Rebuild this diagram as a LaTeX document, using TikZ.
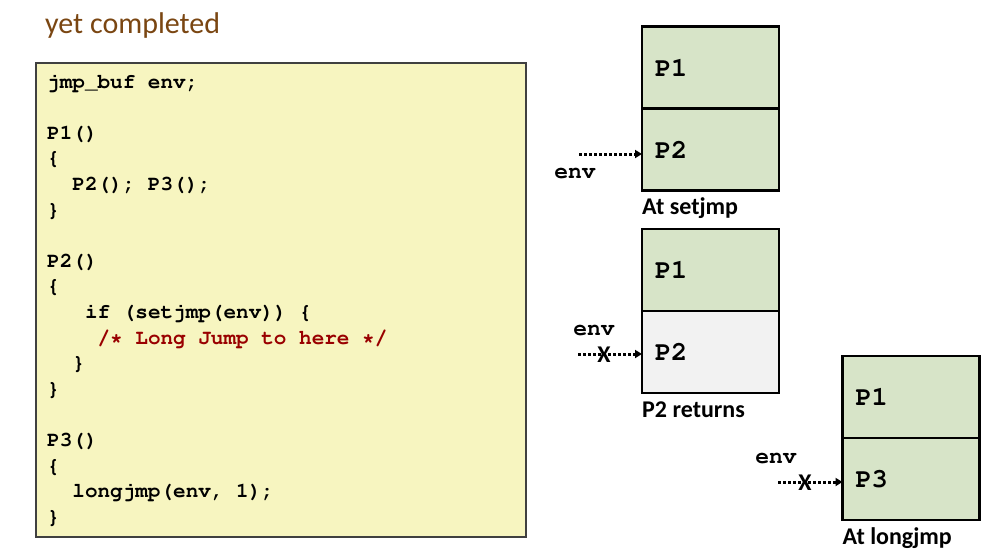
\documentclass[tikz,border=0pt]{standalone}
\usepackage[T1]{fontenc}
\usepackage{fontspec}
\setmainfont{Carlito}
\usetikzlibrary{arrows.meta,positioning}

\newcommand\courbf{\fontencoding{T1}\fontfamily{pcr}\fontseries{b}\selectfont}

\definecolor{codebg}{RGB}{247,245,192}
\definecolor{framegreen}{RGB}{215,228,200}
\definecolor{framegray}{RGB}{242,242,242}
\definecolor{titlebrown}{RGB}{122,70,18}
\definecolor{commentred}{RGB}{153,0,0}

\tikzset{
  stackframe/.style={draw, line width=2.5pt, outer sep=0pt, fill=framegreen,
    minimum width=137pt, minimum height=82pt, text width=111pt, inner xsep=13pt,
    align=left, font=\fontsize{27}{30}\courbf},
  codeline/.style={anchor=base west, inner sep=0pt, font=\fontsize{21}{25}\courbf},
  stacklabel/.style={anchor=base west, inner sep=0pt, font=\fontsize{24}{28}\selectfont\bfseries},
  envlabel/.style={inner sep=0pt, font=\fontsize{23}{26}\courbf},
  envptr/.style={line width=3pt, dash pattern=on 3pt off 2pt, -{Triangle[length=7pt,width=8pt]}},
  cross/.style={inner sep=0pt, font=\fontsize{24}{28}\selectfont\bfseries}
}

\begin{document}
\begin{tikzpicture}[x=1pt,y=-1pt]
    \useasboundingbox (0,0) rectangle (991,552);

    \node[anchor=base west, inner sep=0pt, text=titlebrown, font=\fontsize{30}{34}\selectfont] (title) at (45,33) {yet completed};

    \node[draw=black!75, line width=1.5pt, fill=codebg, minimum width=490pt, minimum height=474pt] (code) at (281,300) {};
    \foreach \i/\n/\txt in {0/0/jmp\_buf env;, 2/0/P1(), 3/0/\{, 4/2/{P2(); P3();}, 5/0/\},
        7/0/P2(), 8/0/\{, 9/3/{if (setjmp(env)) \{}, 11/2/\}, 12/0/\},
        14/0/P3(), 15/0/\{, 16/2/{longjmp(env, 1);}, 17/0/\}}
        \node[codeline] (l\i) at (47+12.6*\n, 88+25.6*\i) {\txt};
    \node[codeline, text=commentred] (l10) at (47+12.6*4, 88+25.6*10) {/* Long Jump to here */};

    \node[stackframe] (s1a) at (710.5,67.5) {P1};
    \node[stackframe, below=0pt of s1a] (s1b) {P2};
    \node[stacklabel] (lab1) at ([yshift=-24pt]s1b.south west) {At setjmp};
    \node[envlabel] (env1) at (575,174) {env};
    \coordinate (e1) at (579,154);
    \draw[envptr] (e1) -- (e1 -| s1b.west);

    \node[stackframe] (s2a) at (710.5,270) {P1};
    \node[stackframe, fill=framegray, below=0pt of s2a] (s2b) {P2};
    \node[stacklabel] (lab2) at ([yshift=-24pt]s2b.south west) {P2 returns};
    \node[envlabel] (env2) at (594,331) {env};
    \coordinate (e2) at (578,354);
    \draw[envptr] (e2) -- (e2 -| s2b.west);
    \node[cross] (x2) at (604,355) {X};

    \node[stackframe] (s3a) at (911,397) {P1};
    \node[stackframe, below=0pt of s3a] (s3b) {P3};
    \node[stacklabel] (lab3) at ([yshift=-24pt]s3b.south west) {At longjmp};
    \node[envlabel] (env3) at (776,459) {env};
    \coordinate (e3) at (778,482);
    \draw[envptr] (e3) -- (e3 -| s3b.west);
    \node[cross] (x3) at (805,483) {X};
\end{tikzpicture}
\end{document}
